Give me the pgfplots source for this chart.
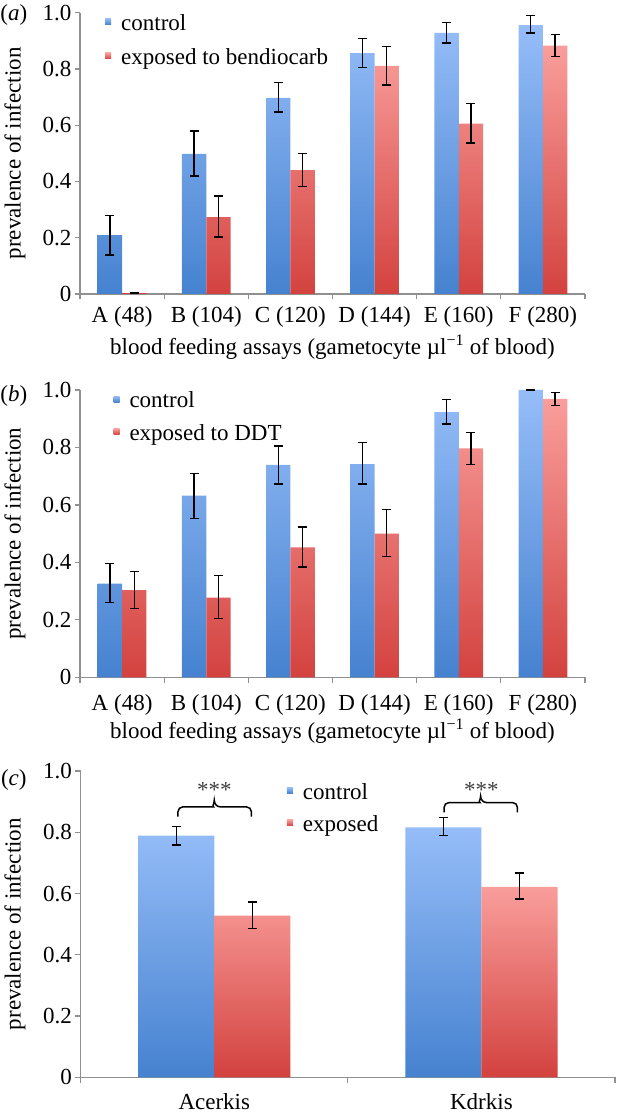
\documentclass[border=0pt]{standalone}
\usepackage{fontspec}
\setmainfont{Liberation Serif}
\usepackage{pgfplots}
\pgfplotsset{compat=1.18}
\definecolor{cT}{HTML}{95BDF8}
\definecolor{cB}{HTML}{4682D0}
\definecolor{rT}{HTML}{F99E9B}
\definecolor{rB}{HTML}{D3423F}
\definecolor{axgray}{HTML}{909090}
\newcommand{\fs}{\fontsize{23}{27}\selectfont}
\pgfplotsset{
  base/.style={
    scale only axis, anchor=south west,
    ymin=0, ymax=1,
    ytick={0,0.2,0.4,0.6,0.8,1}, yticklabels={0,0.2,0.4,0.6,0.8,1.0},
    axis x line*=bottom, axis y line*=left,
    axis line style={draw=axgray, line width=1.2pt, -},
    every tick/.style={draw=axgray, line width=1.2pt},
    tick align=outside, major tick length=5.5pt,
    enlargelimits=false,
    ybar=0pt,
    tick label style={font=\fs},
    label style={font=\fs},
    yticklabel style={inner sep=3pt},
    error bars/y dir=both, error bars/y explicit,
    error bars/error bar style={black, line width=1.4pt},
    error bars/error mark options={black, rotate=90, mark size=4.5pt, line width=1.4pt},
    legend image code/.code={\path[##1, draw=none] (0pt,-0.5pt) rectangle (6pt,5.5pt);},
    legend style={draw=none, fill=none, inner sep=0pt, anchor=north west,
      font=\fs, nodes={inner sep=0pt}, column sep=10pt, row sep=15pt},
    legend cell align=left,
    clip=false,
  },
  ctrl/.style={draw=none, top color=cT, bottom color=cB},
  expo/.style={draw=none, top color=rT, bottom color=rB},
}
\begin{document}
\begin{tikzpicture}
\useasboundingbox (0,0) rectangle (616pt,1115pt);
\fs
% ---------------- panel (a)
\begin{axis}[base, at={(80pt,821pt)}, width=505pt, height=281.3pt,
  xmin=0.5, xmax=6.5, bar width=0.29,
  xtick={0.5,1.5,2.5,3.5,4.5,5.5,6.5}, xticklabels={,,,,,,},
  extra x ticks={1,2,3,4,5,6},
  extra x tick labels={A (48),B (104),C (120),D (144),E (160),F (280)},
  extra x tick style={major tick length=0pt, xticklabel style={yshift=-5pt}},
  xlabel={blood feeding assays (gametocyte µl\textsuperscript{−1} of blood)},
  xlabel style={at={(axis description cs:0.5,-0.19)}, anchor=center},
  ylabel={prevalence of infection},
  ylabel style={at={(axis description cs:-0.129,0.5)}, anchor=center},
  legend style={at={(0.0495,0.995)}},
]
\addplot[ctrl] coordinates {
  (1,0.209) += (0,0.071) -= (0,0.071)
  (2,0.498) += (0,0.081) -= (0,0.078)
  (3,0.697) += (0,0.055) -= (0,0.050)
  (4,0.856) += (0,0.053) -= (0,0.051)
  (5,0.928) += (0,0.037) -= (0,0.036)
  (6,0.956) += (0,0.033) -= (0,0.028)
};
\addplot[expo] coordinates {
  (1,0.003) += (0,0) -= (0,0)
  (2,0.273) += (0,0.075) -= (0,0.071)
  (3,0.440) += (0,0.060) -= (0,0.058)
  (4,0.811) += (0,0.068) -= (0,0.068)
  (5,0.606) += (0,0.071) -= (0,0.069)
  (6,0.883) += (0,0.039) -= (0,0.038)
};
\legend{control, exposed to bendiocarb}
\end{axis}
% ---------------- panel (b)
\begin{axis}[base, at={(80pt,437.7pt)}, width=505pt, height=287.3pt,
  xmin=0.5, xmax=6.5, bar width=0.29,
  xtick={0.5,1.5,2.5,3.5,4.5,5.5,6.5}, xticklabels={,,,,,,},
  extra x ticks={1,2,3,4,5,6},
  extra x tick labels={A (48),B (104),C (120),D (144),E (160),F (280)},
  extra x tick style={major tick length=0pt, xticklabel style={yshift=-9pt}},
  xlabel={blood feeding assays (gametocyte µl\textsuperscript{−1} of blood)},
  xlabel style={at={(axis description cs:0.5,-0.189)}, anchor=center},
  ylabel={prevalence of infection},
  ylabel style={at={(axis description cs:-0.129,0.5)}, anchor=center},
  legend style={at={(0.066,0.994)}, row sep=13pt},
]
\addplot[ctrl] coordinates {
  (1,0.326) += (0,0.071) -= (0,0.066)
  (2,0.632) += (0,0.077) -= (0,0.079)
  (3,0.739) += (0,0.066) -= (0,0.066)
  (4,0.742) += (0,0.075) -= (0,0.069)
  (5,0.923) += (0,0.044) -= (0,0.041)
  (6,1.000) += (0,0) -= (0,0)
};
\addplot[expo] coordinates {
  (1,0.303) += (0,0.065) -= (0,0.063)
  (2,0.277) += (0,0.078) -= (0,0.072)
  (3,0.452) += (0,0.071) -= (0,0.068)
  (4,0.500) += (0,0.083) -= (0,0.080)
  (5,0.797) += (0,0.056) -= (0,0.057)
  (6,0.969) += (0,0.022) -= (0,0.024)
};
\legend{control, exposed to DDT}
\end{axis}
% ---------------- panel (c)
\begin{axis}[base, at={(80.7pt,37.7pt)}, width=534.3pt, height=306.3pt,
  xmin=0.5, xmax=2.5, bar width=0.285,
  xtick={0.5,1.5,2.5}, xticklabels={,,},
  extra x ticks={1,2},
  extra x tick labels={Acerkis,Kdrkis},
  extra x tick style={major tick length=0pt, xticklabel style={yshift=-8.5pt}},
  ylabel={prevalence of infection},
  ylabel style={at={(axis description cs:-0.123,0.5)}, anchor=center},
  legend style={at={(0.3856,0.961)}, row sep=13pt},
]
\addplot[ctrl] coordinates {
  (1,0.789) += (0,0.030) -= (0,0.031)
  (2,0.816) += (0,0.032) -= (0,0.027)
};
\addplot[expo] coordinates {
  (1,0.528) += (0,0.044) -= (0,0.042)
  (2,0.622) += (0,0.045) -= (0,0.040)
};
\legend{control, exposed}
\draw[black, line width=1.5pt, rounded corners=5pt]
  (axis cs:0.864,0.851) |- (axis cs:0.978,0.883)
  to[out=0,in=-90, rounded corners=0pt] (axis cs:1.0,0.905)
  to[out=-90,in=180, rounded corners=0pt] (axis cs:1.022,0.883)
  -| (axis cs:1.139,0.851);
\draw[black, line width=1.5pt, rounded corners=5pt]
  (axis cs:1.860,0.865) |- (axis cs:1.975,0.897)
  to[out=0,in=-90, rounded corners=0pt] (axis cs:1.997,0.918)
  to[out=-90,in=180, rounded corners=0pt] (axis cs:2.019,0.897)
  -| (axis cs:2.135,0.865);
\node[font=\fs, text=black!75] at (axis cs:1.0,0.938) {***};
\node[font=\fs, text=black!75] at (axis cs:2.0,0.938) {***};
\end{axis}
% panel letters
\node[font=\fs] at (13.8pt,1100pt) {(\textit{a})};
\node[font=\fs] at (13.8pt,719pt) {(\textit{b})};
\node[font=\fs] at (13.8pt,335.5pt) {(\textit{c})};
\end{tikzpicture}
\end{document}
